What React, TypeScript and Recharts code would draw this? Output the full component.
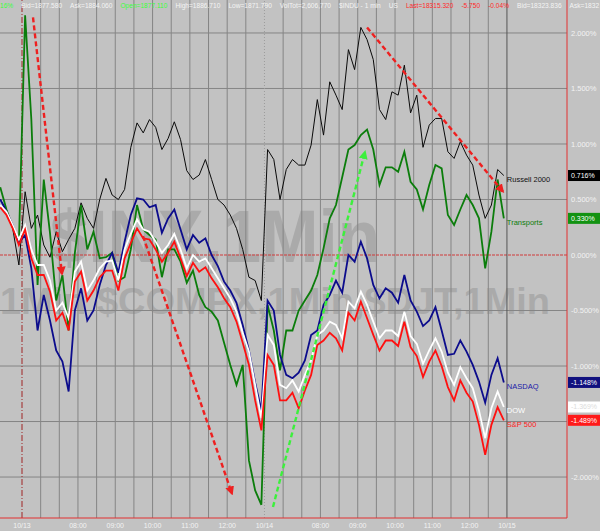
import React from 'react';
import { ComposedChart, Line, XAxis, YAxis, ReferenceLine, ReferenceDot, CartesianGrid } from 'recharts';

// minutes from the 10/13 session open (06:30), 10-minute samples
const times = [-35, -25, -15, -5, 5, 15, 25, 35, 45, 55, 65, 75, 85, 95, 105, 115, 125, 135, 145, 155, 165, 175, 185, 195, 205, 215, 225, 235, 245, 255, 265, 275, 285, 295, 305, 315, 325, 335, 345, 355, 365, 375, 385, 395, 405, 415, 425, 435, 445, 455, 465, 475, 485, 495, 505, 515, 525, 535, 545, 555, 565, 575, 585, 595, 605, 615, 625, 635, 645, 655, 665, 675, 685, 695, 705, 715, 725, 735, 745, 755, 765, 775];

const russell = [0.50, 0.41, 0.24, -0.09, 0.57, 0.24, 0.36, 0.09, -0.02, 0.21,
  0.03, 0.14, 0.24, 0.47, 0.33, 0.24, 0.50, 0.69, 0.54, 0.50,
  0.59, 0.97, 1.19, 1.10, 1.22, 1.15, 0.95, 1.05, 1.20, 1.04,
  0.76, 0.68, 0.72, 0.86, 0.68, 0.50, 0.45, 0.36, 0.24, 0.05,
  -0.20, -0.23, -0.41, 0.95, 0.86, 0.50, 0.77, 0.86, 0.81, 0.81,
  0.99, 1.40, 1.08, 1.56, 1.44, 1.31, 1.85, 1.67, 2.05, 1.94,
  1.76, 1.31, 1.22, 1.47, 1.44, 1.71, 1.28, 1.44, 0.97, 1.17,
  1.23, 1.23, 0.93, 0.87, 1.02, 0.90, 0.81, 0.54, 0.33, 0.45,
  0.77, 0.716];

const transports = [0.61, 0.41, 0.25, 0.11, 2.16, 1.22, -0.27, 0.68, 0.20, -0.41,
  -0.18, -0.68, 0.02, 0.45, 0.05, 0.21, -0.03, -0.02, 0.02, -0.23,
  -0.20, 0.05, 0.45, 0.23, 0.18, 0.14, -0.20, 0.05, 0.05, -0.06,
  -0.25, -0.14, -0.36, -0.47, -0.51, -0.59, -0.79, -0.99, -1.17, -0.99,
  -1.85, -2.12, -2.25, -0.45, -0.68, -1.04, -0.68, -0.68, -0.50, -0.41,
  -0.32, -0.18, 0.06, 0.33, 0.45, 0.70, 0.95, 0.99, 1.08, 1.13,
  0.95, 0.63, 0.79, 0.79, 0.75, 0.93, 0.66, 0.59, 0.41, 0.63,
  0.81, 0.78, 0.36, 0.27, 0.41, 0.54, 0.45, 0.33, -0.12, 0.21,
  0.68, 0.33];

const nasdaq = [0.50, 0.39, 0.27, 0.11, 0.18, -0.12, -0.68, -0.36, -0.59, -0.86,
  -0.96, -1.23, -0.50, -0.30, -0.59, -0.50, -0.27, -0.09, 0.02, -0.16,
  0.12, 0.36, 0.51, 0.50, 0.43, 0.45, 0.20, 0.33, 0.41, 0.23,
  0.05, 0.18, 0.11, 0.15, 0.00, -0.10, -0.24, -0.32, -0.43, -0.63,
  -0.86, -1.15, -1.40, -0.41, -0.50, -0.90, -1.08, -1.11, -1.06, -0.95,
  -0.72, -0.68, -0.45, -0.36, -0.23, -0.34, 0.00, -0.06, 0.12, -0.03,
  -0.27, -0.39, -0.30, -0.34, -0.43, -0.18, -0.41, -0.51, -0.64, -0.59,
  -0.47, -0.68, -0.90, -0.89, -0.77, -0.87, -0.99, -1.14, -1.33, -1.08,
  -0.93, -1.148];

const dow = [0.45, 0.39, 0.27, 0.14, 0.27, 0.05, -0.09, -0.09, -0.23, -0.50,
  -0.43, -0.57, -0.15, -0.06, -0.32, -0.23, -0.12, -0.06, -0.05, -0.23,
  0.05, 0.19, 0.32, 0.23, 0.21, 0.12, 0.02, 0.09, 0.19, 0.05,
  -0.12, 0.00, -0.06, -0.03, -0.12, -0.21, -0.30, -0.39, -0.51, -0.70,
  -0.87, -1.17, -1.47, -0.72, -0.81, -1.17, -1.20, -1.13, -1.23, -1.08,
  -0.95, -0.72, -0.68, -0.60, -0.63, -0.75, -0.42, -0.48, -0.33, -0.45,
  -0.60, -0.75, -0.68, -0.68, -0.73, -0.51, -0.73, -0.80, -0.98, -0.86,
  -0.75, -0.87, -1.06, -1.17, -1.01, -1.11, -1.20, -1.40, -1.65, -1.38,
  -1.23, -1.369];

const sp500 = [0.43, 0.36, 0.24, 0.09, 0.23, -0.03, -0.18, -0.18, -0.33, -0.59,
  -0.52, -0.68, -0.24, -0.15, -0.41, -0.32, -0.20, -0.14, -0.14, -0.32,
  -0.03, 0.11, 0.24, 0.15, 0.14, 0.05, -0.06, 0.02, 0.12, -0.03,
  -0.19, -0.07, -0.15, -0.11, -0.21, -0.29, -0.39, -0.47, -0.60, -0.79,
  -0.99, -1.31, -1.58, -0.90, -0.99, -1.31, -1.31, -1.24, -1.38, -1.22,
  -1.08, -0.81, -0.77, -0.70, -0.75, -0.86, -0.52, -0.59, -0.42, -0.57,
  -0.72, -0.86, -0.77, -0.77, -0.82, -0.60, -0.83, -0.91, -1.10, -0.96,
  -0.86, -1.00, -1.19, -1.31, -1.13, -1.24, -1.32, -1.53, -1.80, -1.53,
  -1.37, -1.489];

const seriesKeys = ['russell', 'transports', 'nasdaq', 'dow', 'sp500'];
const seriesNames = ['Russell 2000', 'Transports', 'NASDAQ', 'DOW', 'S&P 500'];
const seriesValues = [russell, transports, nasdaq, dow, sp500];
const seriesColors = ['#0a0a0a', '#0b7d0b', '#0c0c8c', '#ffffff', '#ff1010'];
const labelColors = ['#111111', '#0b7d0b', '#1a1aa8', '#ffffff', '#ff2020'];
const boxFills = ['#000000', '#129212', '#10107e', '#ffffff', '#ff1a1a'];
const boxText = ['#ffffff', '#ffffff', '#ffffff', '#dcdcdc', '#ffffff'];
const seriesWidths = [1, 1.8, 1.8, 1.8, 1.8];

const xTickTimes = [0, 90, 150, 210, 270, 330, 390, 480, 540, 600, 660, 720, 780];
const xTickLabels = ['10/13', '08:00', '09:00', '10:00', '11:00', '12:00', '10/14', '08:00', '09:00', '10:00', '11:00', '12:00', '10/15'];
const yTicks = [-2, -1.5, -1, -0.5, 0, 0.5, 1, 1.5, 2];
const gridTimes = [30, 60, 90, 120, 150, 180, 210, 240, 270, 300, 330, 360, 420, 450, 480, 510, 540, 570, 600, 630, 660, 690, 720, 750];
const gridPcts = [-2, -1.5, -1, -0.5, 0.5, 1, 1.5, 2];

// annotation arrows: [t1, pct1, t2, pct2]
const redArrows = [
  [17.7, 2.14, 64.3, -0.17],
  [194.6, 0.17, 337.8, -2.15],
  [555, 2.05, 773.7, 0.57],
];
const greenArrows = [[403.7, -2.27, 551.7, 0.93]];

const headerParts = [
  ['16%', '#3cff3c'],
  ['Bid=1877.580', '#f4f4f4'],
  ['Ask=1884.060', '#f4f4f4'],
  ['Open=1877.110', '#3cff3c'],
  ['High=1886.710', '#f4f4f4'],
  ['Low=1871.790', '#f4f4f4'],
  ['VolTot=2,606,770', '#f4f4f4'],
  ['$INDU - 1 min', '#f4f4f4'],
  ['US', '#f4f4f4'],
  ['Last=18315.320', '#ff2a2a'],
  ['-5.750', '#ff2a2a'],
  ['-0.04%', '#ff2a2a'],
  ['Bid=18323.836', '#f4f4f4'],
  ['Ask=1832', '#f4f4f4'],
];

const W = 600;
const H = 531;
const FONT = '"Liberation Sans", Arial, sans-serif';

const lastValues = seriesValues.map((s) => s[s.length - 1]);
// the last-value boxes sit on top of the axis labels they cover
const yTickText = (v: number) =>
  lastValues.some((lv) => Math.abs(lv - v) < 0.06) ? '' : `${v.toFixed(3)}%`;

const makeArrow = (color: string, id: string) => (p: any) => (
  <g>
    <defs>
      <marker id={id} viewBox="0 0 10 10" refX="8" refY="5" markerWidth="9" markerHeight="9" markerUnits="userSpaceOnUse" orient="auto">
        <path d="M0,0 L10,5 L0,10 z" fill={color} />
      </marker>
    </defs>
    <line x1={p.x1} y1={p.y1} x2={p.x2} y2={p.y2} stroke={color} strokeWidth={2.4} strokeDasharray="5 3" markerEnd={`url(#${id})`} />
  </g>
);

export default function App() {
  const rows = times.map((t, i) => ({
    t,
    russell: russell[i],
    transports: transports[i],
    nasdaq: nasdaq[i],
    dow: dow[i],
    sp500: sp500[i],
  }));
  const last = times.length - 1;

  return (
    <div style={{ position: 'absolute', left: 0, top: 0, width: W, height: H, background: '#c2c2c2', overflow: 'hidden', fontFamily: FONT }}>
      <svg width={W} height={H} style={{ position: 'absolute', left: 0, top: 0 }}>
        <text x={50} y={262} fontSize={75} fontWeight="bold" fill="#aaaaaa" fontFamily={FONT} textLength={330} lengthAdjust="spacingAndGlyphs">$INX,1Min</text>
        <text x={0} y={314} fontSize={36} fontWeight="bold" fill="#aaaaaa" fontFamily={FONT} textLength={550} lengthAdjust="spacingAndGlyphs">1Min $COMPX,1Min,$DJT,1Min</text>
      </svg>
      <div style={{ position: 'absolute', left: 0, top: 0 }}>
        <ComposedChart width={W} height={H} data={rows} margin={{ top: 0, right: 0, bottom: 0, left: 0 }}>
          <CartesianGrid stroke="#858585" strokeWidth={1} horizontalValues={gridPcts} verticalValues={gridTimes} />
          <XAxis
            dataKey="t"
            type="number"
            domain={[-35.4, 876.6]}
            allowDataOverflow
            ticks={xTickTimes}
            interval={0}
            tickFormatter={(v: number) => xTickLabels[xTickTimes.indexOf(v)] ?? ''}
            height={13}
            tickSize={0}
            tickMargin={5}
            axisLine={{ stroke: '#e23030', strokeWidth: 1 }}
            tick={{ fill: '#f2f2f2', fontSize: 7, fontFamily: FONT }}
          />
          <YAxis
            orientation="right"
            type="number"
            domain={[-2.369, 2.297]}
            allowDataOverflow
            ticks={yTicks}
            interval={0}
            tickFormatter={yTickText}
            width={33}
            tickSize={0}
            tickMargin={4}
            axisLine={{ stroke: '#e23030', strokeWidth: 1 }}
            tick={{ fill: '#f2f2f2', fontSize: 7.5, fontFamily: FONT, textAnchor: 'start' }}
          />
          <ReferenceLine y={0} stroke="#d03a3a" strokeWidth={1} strokeDasharray="3 1" />
          <ReferenceLine x={0} stroke="#a02525" strokeWidth={1} strokeDasharray="6 2 1 2" />
          <ReferenceLine x={390} stroke="#9c9c9c" strokeWidth={1} strokeDasharray="1 2" />
          <ReferenceLine x={780} stroke="#555555" strokeWidth={1} />
          {seriesKeys.map((k, i) => (
            <Line
              key={k}
              type="linear"
              dataKey={k}
              stroke={seriesColors[i]}
              strokeWidth={seriesWidths[i]}
              dot={false}
              activeDot={false}
              isAnimationActive={false}
            />
          ))}
          {redArrows.map((a, i) => (
            <ReferenceLine
              key={`ra${i}`}
              segment={[{ x: a[0], y: a[1] }, { x: a[2], y: a[3] }]}
              ifOverflow="visible"
              shape={makeArrow('#ee2020', `arrowRed${i}`)}
            />
          ))}
          {greenArrows.map((a, i) => (
            <ReferenceLine
              key={`ga${i}`}
              segment={[{ x: a[0], y: a[1] }, { x: a[2], y: a[3] }]}
              ifOverflow="visible"
              shape={makeArrow('#3cf03c', `arrowGreen${i}`)}
            />
          ))}
          {seriesKeys.map((k, i) => (
            <ReferenceDot
              key={`lbl${k}`}
              x={times[last]}
              y={seriesValues[i][last]}
              r={0}
              ifOverflow="visible"
              shape={(p: any) => (
                <text x={p.cx + 3} y={p.cy + 4} fontSize={7.5} fontFamily={FONT} fill={labelColors[i]} dominantBaseline="central">
                  {seriesNames[i]}
                </text>
              )}
            />
          ))}
          {seriesKeys.map((k, i) => (
            <ReferenceLine
              key={`box${k}`}
              y={seriesValues[i][last]}
              ifOverflow="visible"
              shape={(p: any) => {
                const xr = Math.max(p.x1, p.x2);
                return (
                  <g>
                    <rect x={xr + 1} y={p.y1 - 5.5} width={33} height={11} fill={boxFills[i]} />
                    <text x={xr + 4} y={p.y1} fontSize={7} fontFamily={FONT} fill={boxText[i]} dominantBaseline="central">
                      {`${seriesValues[i][last].toFixed(3)}%`}
                    </text>
                  </g>
                );
              }}
            />
          ))}
        </ComposedChart>
      </div>
      <div style={{ position: 'absolute', left: 0, top: 1, height: 10, whiteSpace: 'nowrap', fontSize: 6.6, lineHeight: '10px', fontFamily: FONT }}>
        {headerParts.map((h, i) => (
          <span key={i} style={{ color: h[1], marginRight: 8 }}>{h[0]}</span>
        ))}
      </div>
    </div>
  );
}
